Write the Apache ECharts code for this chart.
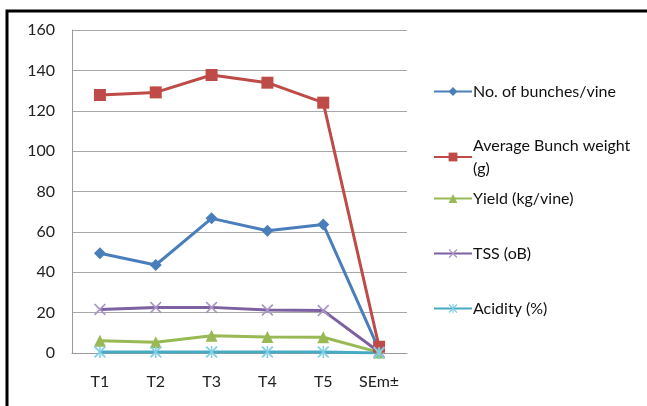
<!DOCTYPE html>
<html><head><meta charset="utf-8">
<script src="https://cdn.jsdelivr.net/npm/echarts@6/dist/echarts.min.js"></script>
<style>html,body{margin:0;padding:0;background:#fff}#c{width:647px;height:406px}</style>
</head><body><div id="c"></div>
<script>
var categories = ['T1','T2','T3','T4','T5','SEm±'];
var bunches = [49.4, 43.6, 66.7, 60.6, 63.7, 1.5];
var bunchWeight = [127.8, 129.1, 137.7, 133.9, 124.0, 3.1];
var yieldKg = [6.1, 5.3, 8.6, 7.9, 7.8, 0.3];
var tss = [21.6, 22.6, 22.6, 21.3, 21.0, 0.5];
var acidity = [0.5, 0.5, 0.5, 0.5, 0.5, 0.05];
var yTicks = [0, 20, 40, 60, 80, 100, 120, 140, 160];

var xPath = 'path://M0,1 L1,0 L5,4 L9,0 L10,1 L6,5 L10,9 L9,10 L5,6 L1,10 L0,9 L4,5 Z';
var starPath = 'path://M0,1 L1,0 L5,4 L9,0 L10,1 L6,5 L10,9 L9,10 L5,6 L1,10 L0,9 L4,5 Z M4.4,0 L5.6,0 L5.6,10 L4.4,10 Z';

var defs = [
  {name:'No. of bunches/vine', data:bunches, color:'#4a7ebb', mcolor:'#4a7ebb', symbol:'diamond', size:12},
  {name:'Average Bunch weight\n(g)', data:bunchWeight, color:'#be4b48', mcolor:'#be4b48', symbol:'rect', size:12},
  {name:'Yield (kg/vine)', data:yieldKg, color:'#98b954', mcolor:'#98b954', symbol:'triangle', size:12},
  {name:'TSS (oB)', data:tss, color:'#7d60a0', mcolor:'#a995c4', symbol:xPath, size:12},
  {name:'Acidity (%)', data:acidity, color:'#46aac5', mcolor:'#7fd0e6', symbol:starPath, size:12}
];
var legendTops = [80, 134, 187, 242, 297];
var font = 'Lato, "Open Sans", sans-serif';

var chart = echarts.init(document.getElementById('c'), null, {renderer:'canvas'});
chart.setOption({
  animation:false,
  backgroundColor:'#fff',
  graphic:[{type:'rect', shape:{x:7, y:11, width:800, height:600}, style:{fill:'none', stroke:'#000', lineWidth:3}, z:100}],
  grid:{left:72, top:30, width:335, height:323, containLabel:false},
  xAxis:{type:'category', data:categories, boundaryGap:true,
    axisLine:{lineStyle:{color:'#9a9a9a', width:1}}, axisTick:{show:false},
    axisLabel:{color:'#222', fontSize:16, fontFamily:font, margin:21}},
  yAxis:{type:'value', min:yTicks[0], max:yTicks[yTicks.length-1], interval:20,
    axisLine:{show:true, lineStyle:{color:'#9a9a9a', width:1}}, axisTick:{show:false},
    splitLine:{lineStyle:{color:'#a8a8a8', width:1}},
    axisLabel:{color:'#222', fontSize:16, fontFamily:font, margin:17}},
  legend: defs.map(function(d,i){return {
    data:[d.name], orient:'vertical', left:433, top:legendTops[i], padding:0,
    itemWidth:38, itemHeight:11, itemGap:0,
    textStyle:{color:'#111', fontSize:16, fontFamily:font, lineHeight:23, padding:[0,0,0,-4]},
    align:'left'
  };}),
  series: defs.map(function(d){return {
    type:'line', name:d.name, data:d.data, symbol:d.symbol, symbolSize:d.size,
    lineStyle:{color:d.color, width:3}, itemStyle:{color:d.mcolor},
    showAllSymbol:true
  };})
});
</script></body></html>
